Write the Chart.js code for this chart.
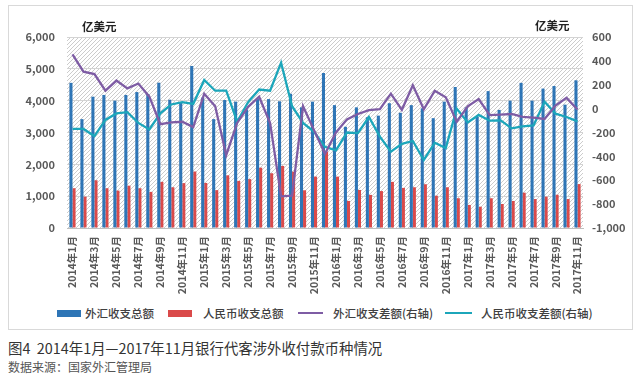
<!DOCTYPE html>
<html>
<head>
<meta charset="utf-8">
<script src="https://cdn.jsdelivr.net/npm/chart.js@4"></script>
<style>
  body { margin: 0; width: 638px; height: 377px; background: #fff; position: relative; overflow: hidden;
         font-family: 'Noto Sans CJK SC', 'Noto Sans', sans-serif; }
  #card { position: absolute; left: 8px; top: 5px; width: 623px; height: 323px; border: 1px solid #d9d9d9; }
  #chartBox { position: absolute; left: 0; top: 0; width: 638px; height: 300px; }
  .lg { position: absolute; top: 305px; font-size: 11.5px; color: #404040; white-space: nowrap; line-height: 16px; font-weight: 500; }
  .sw { position: absolute; }
  #title { position: absolute; left: 8px; top: 337px; font-size: 14.4px; color: #333; white-space: nowrap; }
  #source { position: absolute; left: 8px; top: 358px; font-size: 12px; color: #555; white-space: nowrap; }
</style>
</head>
<body>
<div id="card"></div>
<div id="chartBox"><canvas id="chart"></canvas></div>

<div class="sw" style="left:57px;top:310px;width:24px;height:7px;background:#2E75B6"></div>
<div class="lg" style="left:85px">外汇收支总额</div>
<div class="sw" style="left:168px;top:310px;width:24px;height:7px;background:#DA4A4A"></div>
<div class="lg" style="left:203px">人民币收支总额</div>
<div class="sw" style="left:298px;top:312px;width:25px;height:2px;background:#7E5CA4"></div>
<div class="lg" style="left:333px">外汇收支差额(右轴)</div>
<div class="sw" style="left:445px;top:312px;width:27px;height:2px;background:#1CA6BA"></div>
<div class="lg" style="left:481px">人民币收支差额(右轴)</div>

<div id="title">图4&nbsp; 2014年1月—2017年11月银行代客涉外收付款币种情况</div>
<div id="source">数据来源：国家外汇管理局</div>

<script>
// months 2014-01 .. 2017-11
const months = [];
for (let y = 2014; y <= 2017; y++) {
  for (let m = 1; m <= 12; m++) {
    if (y === 2017 && m > 11) break;
    months.push(y + '年' + m + '月');
  }
}

// 外汇收支总额 (left axis)
const fxTotal = [4560, 3420, 4125, 4180, 4000, 4180, 4270, 4210, 4565, 4030, 3950, 5090,
                 4100, 3420, 4020, 3970, 3720, 4050, 4050, 3980, 4220, 3790, 3970, 4870,
                 3860, 3180, 3790, 3480, 3530, 3920, 3620, 3860, 3760, 3450, 3970, 4430,
                 3790, 3490, 4300, 3710, 4000, 4560, 4000, 4380, 4460, 3875, 4640];
// 人民币收支总额 (left axis)
const rmbTotal = [1250, 985, 1500, 1250, 1175, 1330, 1250, 1135, 1450, 1280, 1410, 1775,
                  1415, 1190, 1655, 1480, 1535, 1895, 1720, 1950, 1770, 1185, 1615, 2400,
                  1615, 850, 1195, 1040, 1160, 1450, 1260, 1280, 1375, 1015, 1280, 935,
                  725, 670, 935, 755, 850, 1110, 910, 985, 1045, 910, 1380];
// 外汇收支差额 (right axis)
const fxBalance = [455, 310, 290, 150, 235, 170, 210, 100, -130, -115, -110, -155,
                   125, 20, -390, -120, 15, 100, -120, -735, -730, 20, -180, -380,
                   -200, -90, -45, -12, -5, 125, -10, 195, -5, 150, 95, -110,
                   20, 80, -55, -50, -45, -70, -75, -87, 25, 90, -8];
// 人民币收支差额 (right axis)
const rmbBalance = [-170, -170, -230, -95, -40, -30, -120, -175, -40, 35, 55, 40,
                    240, 150, 150, -110, 55, 160, 150, 385, 20, -120, -195, -320,
                    -350, -200, -205, -70, -235, -360, -295, -271, -430, -285, -330, 0,
                    -115, -53, -101, -98, -165, -148, -140, 58, -42, -70, -107];

const FONT = "'Noto Sans CJK SC', 'Noto Sans', sans-serif";

// diagonal hatching behind the plot area
function makeHatch() {
  const c = document.createElement('canvas');
  c.width = 4; c.height = 4;
  const g = c.getContext('2d');
  g.strokeStyle = '#c6c6c6';
  g.lineWidth = 0.9;
  g.beginPath();
  g.moveTo(0, 4); g.lineTo(4, 0);
  g.moveTo(-1, 1); g.lineTo(1, -1);
  g.moveTo(3, 5); g.lineTo(5, 3);
  g.stroke();
  return c;
}

const hatchPlugin = {
  id: 'hatch',
  beforeDraw(chart) {
    const { ctx, chartArea: a } = chart;
    ctx.save();
    ctx.fillStyle = ctx.createPattern(makeHatch(), 'repeat');
    ctx.fillRect(a.left, a.top, a.right - a.left, a.bottom - a.top);
    ctx.restore();
  }
};

const unitPlugin = {
  id: 'units',
  afterDraw(chart) {
    const ctx = chart.ctx;
    ctx.save();
    ctx.font = 'bold 11.5px ' + FONT;
    ctx.fillStyle = '#222';
    ctx.textBaseline = 'middle';
    ctx.fillText('亿美元', 82, 27);
    ctx.fillText('亿美元', 535, 26);
    ctx.restore();
  }
};

const tickFont = { family: FONT, size: 11, weight: 'bold' };

new Chart(document.getElementById('chart'), {
  type: 'bar',
  data: {
    labels: months,
    datasets: [
      { type: 'line', label: '外汇收支差额(右轴)', data: fxBalance, yAxisID: 'y1', order: 0,
        borderColor: '#7E5CA4', borderWidth: 2.3, pointRadius: 0, tension: 0 },
      { type: 'line', label: '人民币收支差额(右轴)', data: rmbBalance, yAxisID: 'y1', order: 0,
        borderColor: '#1CA6BA', borderWidth: 2.3, pointRadius: 0, tension: 0 },
      { label: '外汇收支总额', data: fxTotal, backgroundColor: '#2E75B6', order: 1,
        categoryPercentage: 0.56, barPercentage: 1.0 },
      { label: '人民币收支总额', data: rmbTotal, backgroundColor: '#DA4A4A', order: 1,
        categoryPercentage: 0.56, barPercentage: 1.0 }
    ]
  },
  options: {
    responsive: true,
    maintainAspectRatio: false,
    animation: false,
    layout: { padding: { top: 37, left: 0, right: 0, bottom: 0 } },
    plugins: { legend: { display: false }, tooltip: { enabled: false } },
    scales: {
      x: {
        grid: { display: false, drawTicks: false },
        border: { color: '#bfbfbf' },
        ticks: {
          autoSkip: false, minRotation: 90, maxRotation: 90, padding: 8,
          color: '#595959', font: { family: FONT, size: 10.5, weight: 'bold' },
          callback: (v, i) => (i % 2 === 0 ? months[i] : '')
        },
        afterFit: s => { s.height = 72; }
      },
      y: {
        position: 'left', min: 0, max: 6000,
        ticks: { stepSize: 1000, padding: 12, color: '#595959', font: tickFont,
                 callback: v => v.toLocaleString('en-US') },
        grid: { color: '#d4d4d4', drawTicks: false },
        border: { display: false },
        afterFit: s => { s.width = 67; }
      },
      y1: {
        position: 'right', min: -1000, max: 600,
        ticks: { stepSize: 200, padding: 9, color: '#595959', font: tickFont,
                 callback: v => v.toLocaleString('en-US') },
        grid: { display: false, drawTicks: false },
        border: { display: false },
        afterFit: s => { s.width = 55; }
      }
    }
  },
  plugins: [hatchPlugin, unitPlugin]
});
</script>
</body>
</html>
